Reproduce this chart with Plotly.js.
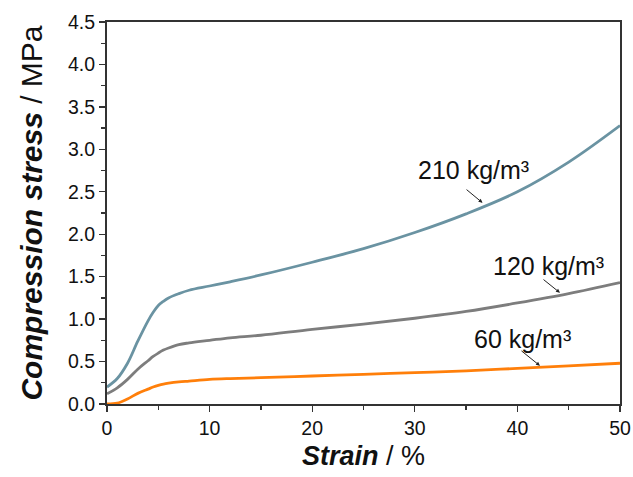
<!DOCTYPE html>
<html><head><meta charset="utf-8">
<script src="https://cdn.plot.ly/plotly-3.0.1.min.js"></script>
<style>html,body{margin:0;padding:0;background:#fff}#c{width:633px;height:477px}</style>
</head><body><div id="c"></div>
<script>
const strain = [0,1,2,3,4,4.5,5,5.5,6,7,8,10,12,15,20,25,30,35,40,45,50];
const stress210 = [0.2,0.3,0.48,0.74,0.98,1.08,1.16,1.21,1.25,1.3,1.34,1.39,1.44,1.52,1.67,1.83,2.02,2.24,2.5,2.85,3.28];
const stress120 = [0.12,0.19,0.29,0.41,0.51,0.56,0.6,0.635,0.66,0.7,0.72,0.75,0.78,0.81,0.88,0.94,1.01,1.09,1.19,1.3,1.43];
const stress60 = [0,0.01,0.06,0.125,0.175,0.2,0.22,0.235,0.245,0.26,0.27,0.29,0.3,0.31,0.33,0.35,0.37,0.39,0.42,0.45,0.48];
const labels = ['210 kg/m³','120 kg/m³','60 kg/m³'];

const font = 'Liberation Sans, Arial, sans-serif';
const mk = (y,c)=>({x:strain,y:y,type:'scatter',mode:'lines',line:{color:c,width:2.8,shape:'spline',smoothing:1},showlegend:false,hoverinfo:'skip'});
const data = [mk(stress210,'#6a93a2'), mk(stress120,'#7d7d7d'), mk(stress60,'#ff7f0a')];

const ann = (hx,hy,tx,ty)=>({x:hx,y:hy,ax:tx,ay:ty,axref:'x',ayref:'y',xref:'x',yref:'y',text:'',showarrow:true,arrowhead:2,arrowsize:0.8,arrowwidth:1,arrowcolor:'#222'});
const txt = (t,x,y)=>({x:x,y:y,xref:'x',yref:'y',text:t,showarrow:false,font:{family:font,size:25,color:'#111'}});

const layout = {
  width:633,height:477,
  margin:{l:107,r:13,t:22,b:73},
  paper_bgcolor:'#fff',plot_bgcolor:'#fff',
  font:{family:font,color:'#111'},
  xaxis:{range:[0,50],dtick:10,ticks:'outside',ticklen:6,tickwidth:1.3,tickcolor:'#333',
    showline:true,linecolor:'#333',linewidth:2,mirror:true,showgrid:false,zeroline:false,
    tickfont:{family:font,size:19.5,color:'#111'},
    minor:{dtick:5,ticks:'outside',ticklen:4,tickcolor:'#333',showgrid:false},
    title:{text:'<b><i>Strain</i></b> / %',font:{family:font,size:27,color:'#111'},standoff:8}},
  yaxis:{range:[0,4.5],dtick:0.5,tickformat:'.1f',ticks:'outside',ticklen:6,tickwidth:1.3,tickcolor:'#333',
    showline:true,linecolor:'#333',linewidth:2,mirror:true,showgrid:false,zeroline:false,
    tickfont:{family:font,size:19.5,color:'#111'},
    minor:{dtick:0.25,ticks:'outside',ticklen:4,tickcolor:'#333',showgrid:false},
    title:{text:'<b><i>Compression stress</i></b> / MPa',font:{family:font,size:30,color:'#111'},standoff:16}},
  annotations:[
    ann(36.6,2.37,34.9,2.54), txt(labels[0],35.7,2.76),
    ann(44.15,1.31,42.4,1.48), txt(labels[1],43.0,1.63),
    ann(42.2,0.45,40.25,0.64), txt(labels[2],40.5,0.76)
  ]
};
Plotly.newPlot('c',data,layout,{displayModeBar:false,staticPlot:true});
</script></body></html>
